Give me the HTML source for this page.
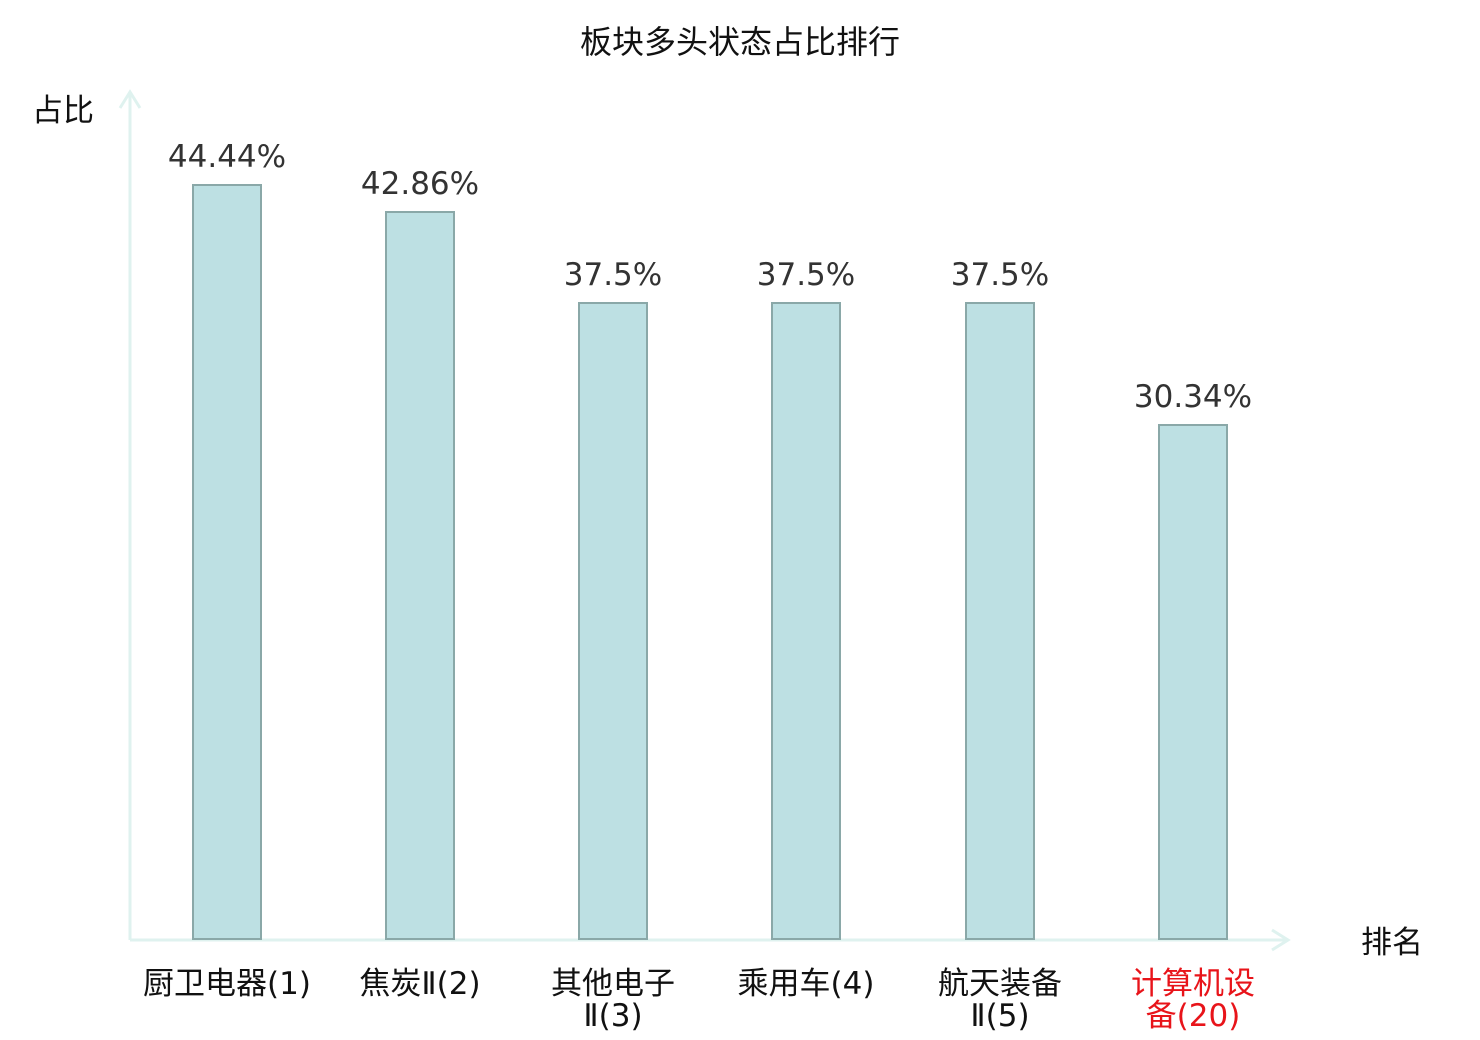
<!DOCTYPE html>
<html><head><meta charset="utf-8"><style>
html,body{margin:0;padding:0;background:#fff;}
svg{display:block;}
text{font-family:"DejaVu Sans","Noto Sans CJK SC",sans-serif;}
</style></head><body>
<svg width="1480" height="1040" viewBox="0 0 1480 1040" xmlns="http://www.w3.org/2000/svg">
<text x="740" y="53" font-size="32" text-anchor="middle" fill="#111">板块多头状态占比排行</text>
<text x="63" y="121" font-size="31" text-anchor="middle" fill="#111">占比</text>
<text x="1392" y="953" font-size="31" text-anchor="middle" fill="#111">排名</text>
<g stroke="#dff2ef" stroke-width="3" fill="none">
<line x1="130" y1="92" x2="130" y2="940"/>
<polyline points="120,108 130,92 140,108"/>
<line x1="130" y1="940" x2="1288" y2="940"/>
<polyline points="1272,930 1288,940 1272,950"/>
</g>
<g fill="#bde0e3" stroke="#8aa8a8" stroke-width="2">
<rect x="193" y="185" width="68" height="754"/>
<rect x="386" y="212" width="68" height="727"/>
<rect x="579" y="303" width="68" height="636"/>
<rect x="772" y="303" width="68" height="636"/>
<rect x="966" y="303" width="68" height="636"/>
<rect x="1159" y="425" width="68" height="514"/>
</g>
<g font-size="31" fill="#333" text-anchor="middle">
<text x="227" y="167">44.44%</text>
<text x="420" y="194">42.86%</text>
<text x="613" y="285">37.5%</text>
<text x="806" y="285">37.5%</text>
<text x="1000" y="285">37.5%</text>
<text x="1193" y="407">30.34%</text>
</g>
<g font-size="31" fill="#111" text-anchor="middle">
<text x="227" y="994">厨卫电器(1)</text>
<text x="420" y="994">焦炭Ⅱ(2)</text>
<text x="613" y="994">其他电子</text>
<text x="613" y="1026">Ⅱ(3)</text>
<text x="806" y="994">乘用车(4)</text>
<text x="1000" y="994">航天装备</text>
<text x="1000" y="1026">Ⅱ(5)</text>
<text x="1193" y="994" fill="#e8141a">计算机设</text>
<text x="1193" y="1026" fill="#e8141a">备(20)</text>
</g>
</svg>
</body></html>
